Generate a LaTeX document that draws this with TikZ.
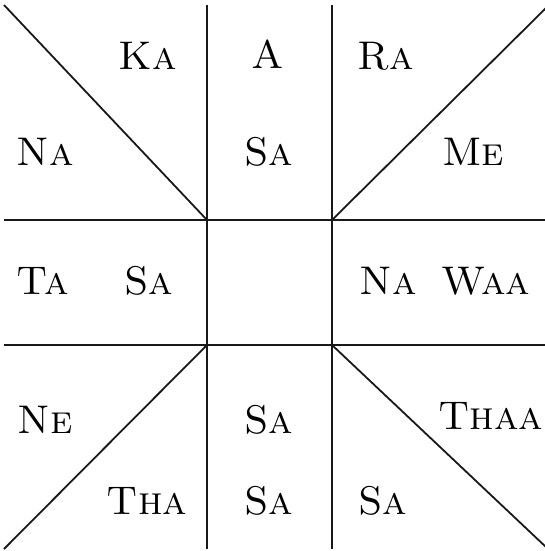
\documentclass[tikz,border=0pt]{standalone}
\begin{document}
\begin{tikzpicture}[x=1pt,y=-1pt,
  grid/.style={line width=1.8pt,black!90},
  lbl/.style={anchor=base,inner sep=0pt,font=\fontsize{40}{40}\selectfont\scshape}]
\useasboundingbox (0,0) rectangle (545,551);
% centre square corners
\coordinate (c1) at (207,220);
\coordinate (c2) at (332,220);
\coordinate (c3) at (332,345);
\coordinate (c4) at (207,345);
% outer ends
\coordinate (o1) at (4,5);
\coordinate (o2) at (547,7);
\coordinate (o3) at (547,548);
\coordinate (o4) at (4,549);
\coordinate (vt1) at (207,5);
\coordinate (vb1) at (207,549);
\coordinate (vt2) at (332,5);
\coordinate (vb2) at (332,549);
\coordinate (hl1) at (4,220);
\coordinate (hr1) at (547,220);
\coordinate (hl2) at (4,345);
\coordinate (hr2) at (547,345);
\draw[grid] (vt1) -- (vb1);
\draw[grid] (vt2) -- (vb2);
\draw[grid] (hl1) -- (hr1);
\draw[grid] (hl2) -- (hr2);
\draw[grid] (o1) -- (c1);
\draw[grid] (o2) -- (c2);
\draw[grid] (o3) -- (c3);
\draw[grid] (o4) -- (c4);
% labels
\node[lbl] (ka) at (148,70) {Ka};
\node[lbl] (a) at (268,68) {A};
\node[lbl] (ra) at (386,70) {Ra};
\node[lbl] (na1) at (45,165) {Na};
\node[lbl] (sa1) at (269,165) {Sa};
\node[lbl] (me) at (473,165) {Me};
\node[lbl] (ta) at (43,294) {Ta};
\node[lbl] (sa2) at (149,294) {Sa};
\node[lbl] (na2) at (388,294) {Na};
\node[lbl] (waa) at (486,294) {Waa};
\node[lbl] (ne) at (45,433) {Ne};
\node[lbl] (sa3) at (269,433) {Sa};
\node[lbl] (thaa) at (491,429) {Thaa};
\node[lbl] (tha) at (147,514) {Tha};
\node[lbl] (sa4) at (269,514) {Sa};
\node[lbl] (sa5) at (383,514) {Sa};
\end{tikzpicture}
\end{document}
